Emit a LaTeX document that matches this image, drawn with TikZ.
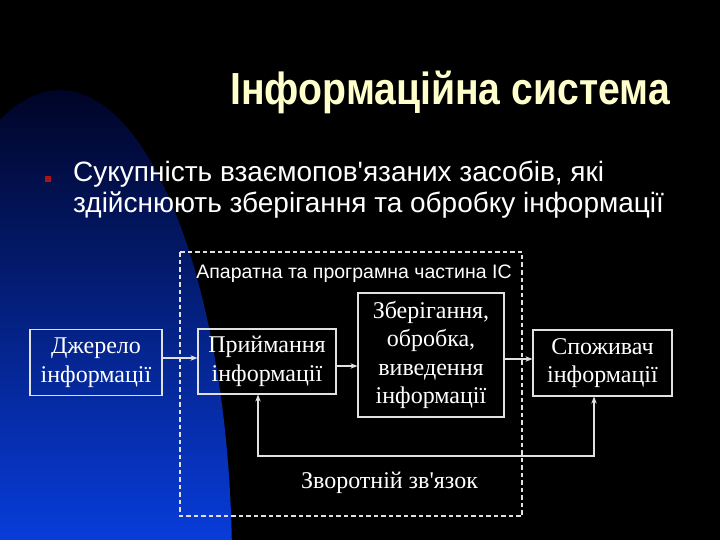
\documentclass[tikz,border=0pt]{standalone}
\usepackage{fontspec}
\setmainfont{Liberation Serif}[Ligatures=TeXOff]
\setsansfont{Liberation Sans}[Ligatures=TeXOff]
\newfontfamily\nazvafont{Liberation Sans}[Ligatures=TeXOff,FakeStretch=0.87]
\usetikzlibrary{arrows.meta}
\definecolor{titul}{RGB}{255,255,204}
\definecolor{marker}{RGB}{170,20,25}
\definecolor{liniya}{RGB}{225,225,225}
\definecolor{sinij1}{RGB}{0,4,38}
\definecolor{sinij2}{RGB}{0,28,135}
\definecolor{sinij3}{RGB}{8,60,218}

\begin{document}
\begin{tikzpicture}[x=1pt,y=-1pt,>={Stealth[length=7pt,width=5.5pt]},
  blok/.style={draw=liniya,line width=1.2pt,text=white,align=center,
    font=\fontsize{24}{28.5}\selectfont,inner sep=0pt},
  zv/.style={liniya,line width=1.2pt}]
\fill[black](0,0)rectangle(720,540);
\begin{scope}
\clip(0,0)rectangle(720,540);
\clip(60,565)ellipse(172 and 475);
\shade[top color=sinij1,middle color=sinij2,bottom color=sinij3](0,90)rectangle(240,540);
\end{scope}
\useasboundingbox(0,0)rectangle(720,540);
% zagolovok i tekst
\node[anchor=base east,inner sep=0pt,text=titul,font=\nazvafont\bfseries\fontsize{45}{50}\selectfont](nazva)at(670,105){Інформаційна система};
\fill[marker](44.5,176)rectangle(50.5,182);
\node[anchor=base west,inner sep=0pt,text=white,font=\sffamily\fontsize{28}{31}\selectfont](tekst1)at(73,182){Сукупність взаємопов'язаних засобів, які};
\node[anchor=base west,inner sep=0pt,text=white,font=\sffamily\fontsize{28}{31}\selectfont](tekst2)at(73,213){здійснюють зберігання та обробку інформації};
% aparatna chastyna
\draw[liniya,line width=1.3pt,dash pattern=on 4.5pt off 3pt](180,252)rectangle(522,516);
\node[anchor=base,inner sep=0pt,text=white,font=\sffamily\fontsize{19.5}{22}\selectfont](aparat)at(354,278){Апаратна та програмна частина ІС};
% bloky
\node[blok,minimum width=132pt,minimum height=66pt](dzherelo)at(96,362.5){Джерело\\інформації};
\node[blok,minimum width=138pt,minimum height=65pt](pryjom)at(267,361.5){Приймання\\інформації};
\node[blok,minimum width=146pt,minimum height=124pt](obrobka)at(431,355){Зберігання,\\обробка,\\виведення\\інформації};
\node[blok,minimum width=139pt,minimum height=66pt](spozhyvach)at(602.5,363){Споживач\\інформації};
\draw[zv,->](dzherelo.east|-0,358)--(pryjom.west|-0,358);
\draw[zv,->](pryjom.east|-0,366)--(obrobka.west|-0,366);
\draw[zv,->](obrobka.east|-0,359)--(spozhyvach.west|-0,359);
\draw[zv,<->](pryjom.south-|258,0)--(258,456)--(594,456)--(spozhyvach.south-|594,0);
\node[anchor=base,inner sep=0pt,text=white,font=\fontsize{24}{28}\selectfont](zvjazok)at(389.5,488){Зворотній зв'язок};
\end{tikzpicture}
\end{document}
